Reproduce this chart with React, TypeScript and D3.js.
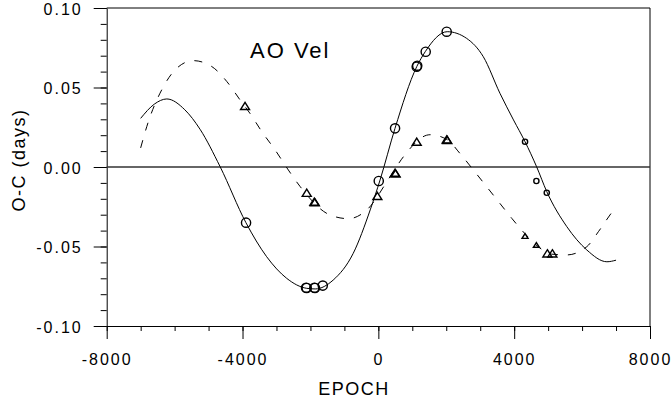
import * as d3 from 'd3';
import { useEffect, useRef } from 'react';

// fitted curves (epoch, O-C days)
const solidFit: [number, number][] = [
  [-7000, 0.0306], [-6600, 0.0395], [-6230, 0.0428], [-5700, 0.036], [-5250, 0.0237],
  [-4660, 0.0002], [-3900, -0.035], [-3290, -0.0564], [-2700, -0.07], [-2110, -0.0763],
  [-1860, -0.0767], [-1330, -0.0711], [-740, -0.0543], [-240, -0.027], [50, -0.0082],
  [490, 0.0243], [1130, 0.0631], [1380, 0.0725], [2030, 0.0851], [2600, 0.0809],
  [3090, 0.0694], [3580, 0.0464], [3980, 0.0296], [4320, 0.0159], [4660, 0.0002],
  [4960, -0.0155], [5550, -0.0375], [6140, -0.0522], [6730, -0.0596], [7000, -0.0586]
];

const dashedFit: [number, number][] = [
  [-7000, 0.012], [-6820, 0.0254], [-6330, 0.0505], [-5990, 0.061], [-5450, 0.0669],
  [-4900, 0.0631], [-4460, 0.0537], [-4070, 0.0421], [-3780, 0.0337], [-3430, 0.0222],
  [-3040, 0.0107], [-2650, -0.0019], [-2300, -0.0124], [-1420, -0.0302], [-880, -0.0325],
  [-340, -0.027], [345, -0.0061], [740, 0.0065], [1520, 0.0203], [2030, 0.0172],
  [2400, 0.0086], [2800, -0.0019], [3190, -0.0124], [3580, -0.0229], [3930, -0.0323],
  [4320, -0.042], [4700, -0.05], [5100, -0.0548], [5550, -0.0553], [6140, -0.0501],
  [6480, -0.0407], [6820, -0.0302], [7000, -0.025]
];

// observed minima
const circlesBig: [number, number][] = [
  [-3896, -0.035], [-2129, -0.0759], [-2110, -0.0761], [-1885, -0.0759], [-1866, -0.0761],
  [-1637, -0.0746], [12, -0.0088], [492, 0.0243], [1130, 0.0631], [1145, 0.0637],
  [1395, 0.0725], [2013, 0.0851]
];
const circlesSmall: [number, number][] = [
  [4320, 0.0159], [4654, -0.0088], [4960, -0.0162]
];
const trianglesBig: [number, number][] = [
  [-3926, 0.0384], [-2109, -0.0162], [-1885, -0.0218], [-1870, -0.0222], [-29, -0.0182],
  [492, -0.0036], [508, -0.004], [1130, 0.0159], [2013, 0.0174], [2030, 0.017],
  [4978, -0.0543], [5125, -0.0543]
];
const trianglesSmall: [number, number][] = [
  [4320, -0.0434], [4654, -0.049]
];

const xMajor = [-8000, -4000, 0, 4000, 8000];
const yMajor = [-0.1, -0.05, 0, 0.05, 0.1];

const FONT = 'Arial, "Liberation Sans", sans-serif';

// plain hyphen for negative numbers, like the original plot
const locale = d3.formatLocale({ decimal: '.', thousands: '', grouping: [3], currency: ['', ''], minus: '-' });

export default function App() {
  const ref = useRef<SVGSVGElement>(null);

  useEffect(() => {
    document.body.style.margin = '0';
    const svg = d3.select(ref.current);
    svg.selectAll('*').remove();

    const x = d3.scaleLinear().domain([-8000, 8000]).range([106.7, 650]);
    const y = d3.scaleLinear().domain([-0.1, 0.1]).range([326, 8]);

    // minor ticks
    svg.append('g')
      .attr('transform', 'translate(0,326)')
      .call(d3.axisBottom(x).tickValues(d3.range(-8000, 8001, 1000)).tickSize(5).tickSizeOuter(0).tickFormat(() => ''))
      .call(g => g.select('.domain').remove());
    svg.append('g')
      .attr('transform', 'translate(106.7,0)')
      .call(d3.axisLeft(y).tickValues(d3.range(-10, 11).map(d => d / 100)).tickSize(6).tickSizeOuter(0).tickFormat(() => ''))
      .call(g => g.select('.domain').remove());

    // major ticks + labels
    const xAxis = svg.append('g')
      .attr('transform', 'translate(0,326)')
      .call(d3.axisBottom(x).tickValues(xMajor).tickSize(13).tickSizeOuter(0).tickPadding(15).tickFormat(locale.format('d')));
    const yAxis = svg.append('g')
      .attr('transform', 'translate(106.7,0)')
      .call(d3.axisLeft(y).tickValues(yMajor).tickSize(13).tickSizeOuter(0).tickPadding(11).tickFormat(locale.format('.2f')));

    [xAxis, yAxis].forEach(g => {
      g.selectAll('text')
        .style('font-family', FONT)
        .style('font-size', '16px')
        .style('letter-spacing', '2px')
        .attr('fill', '#000');
      g.selectAll('line, path').attr('stroke', '#000').attr('stroke-width', 1);
    });
    yAxis.selectAll('text').attr('dy', '0.38em');

    // frame: top and right
    svg.append('line')
      .attr('x1', x(-8000)).attr('x2', x(8000)).attr('y1', y(0.1)).attr('y2', y(0.1))
      .attr('stroke', '#000');
    svg.append('line')
      .attr('x1', x(8000)).attr('x2', x(8000)).attr('y1', y(0.1)).attr('y2', y(-0.1))
      .attr('stroke', '#000');
    // zero line
    svg.append('line')
      .attr('x1', x(-8000)).attr('x2', x(8000)).attr('y1', y(0)).attr('y2', y(0))
      .attr('stroke', '#333').attr('stroke-width', 1.3);

    const line = d3.line<[number, number]>()
      .x(d => x(d[0]))
      .y(d => y(d[1]))
      .curve(d3.curveMonotoneX);

    svg.append('path')
      .attr('d', line(solidFit))
      .attr('fill', 'none')
      .attr('stroke', '#000')
      .attr('stroke-width', 1);

    svg.append('path')
      .attr('d', line(dashedFit))
      .attr('fill', 'none')
      .attr('stroke', '#000')
      .attr('stroke-width', 1)
      .attr('stroke-dasharray', '8,10');

    const drawCircles = (data: [number, number][], r: number) => {
      svg.append('g')
        .selectAll('circle')
        .data(data)
        .enter()
        .append('circle')
        .attr('cx', d => x(d[0]))
        .attr('cy', d => y(d[1]))
        .attr('r', r)
        .attr('fill', 'none')
        .attr('stroke', '#000')
        .attr('stroke-width', 1.4);
    };
    drawCircles(circlesBig, 4.6);
    drawCircles(circlesSmall, 2.6);

    const drawTriangles = (data: [number, number][], w: number) => {
      const h = w * 0.8;
      svg.append('g')
        .selectAll('path')
        .data(data)
        .enter()
        .append('path')
        .attr('d', d => {
          const cx = x(d[0]);
          const cy = y(d[1]);
          return `M${cx},${cy - h / 2}L${cx + w / 2},${cy + h / 2}L${cx - w / 2},${cy + h / 2}Z`;
        })
        .attr('fill', 'none')
        .attr('stroke', '#000')
        .attr('stroke-width', 1.4)
        .attr('stroke-linejoin', 'miter');
    };
    drawTriangles(trianglesBig, 9);
    drawTriangles(trianglesSmall, 6);

    // titles
    svg.append('text')
      .attr('x', 250).attr('y', 58)
      .style('font-family', FONT).style('font-size', '22px').style('letter-spacing', '2px')
      .text('AO Vel');

    svg.append('text')
      .attr('x', 354).attr('y', 395)
      .attr('text-anchor', 'middle')
      .style('font-family', FONT).style('font-size', '18px').style('letter-spacing', '1.5px')
      .text('EPOCH');

    svg.append('text')
      .attr('transform', 'translate(25,160) rotate(-90)')
      .attr('text-anchor', 'middle')
      .style('font-family', FONT).style('font-size', '18px').style('letter-spacing', '1.5px')
      .text('O-C (days)');
  }, []);

  return (
    <svg ref={ref} width={672} height={407} style={{ display: 'block', background: '#fff' }} />
  );
}
